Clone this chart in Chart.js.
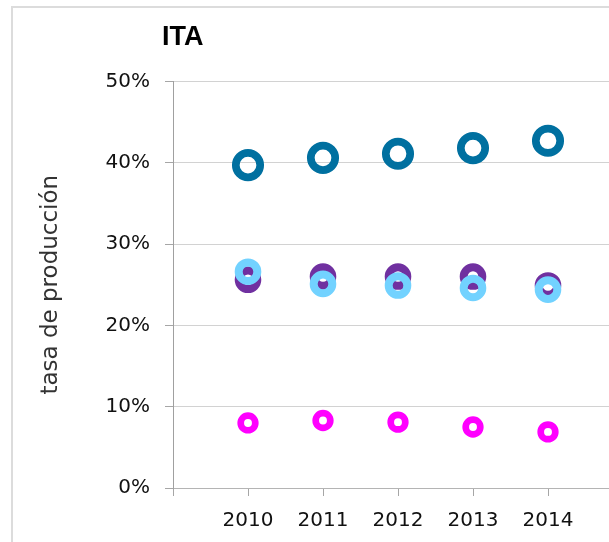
<!DOCTYPE html>
<html>
<head>
<meta charset="utf-8">
<script src="https://cdn.jsdelivr.net/npm/chart.js@4/dist/chart.umd.min.js"></script>
<style>
  html, body { margin: 0; padding: 0; overflow: hidden; background: #fff; width: 609px; height: 542px; }
  #wrap { position: absolute; left: 0; top: 0; width: 636px; height: 542px; }
  #frame { position: absolute; left: 11px; top: 6px; width: 700px; height: 700px; border-left: 2px solid #dcdcdc; border-top: 2px solid #dcdcdc; box-sizing: border-box; }
  canvas { position: absolute; left: 0; top: 0; }
</style>
</head>
<body>
<div id="wrap">
  <div id="frame"></div>
  <canvas id="c" width="636" height="542"></canvas>
</div>
<script>
const chartTitle = 'ITA';
const yAxisTitle = 'tasa de producción';
const years = [2010, 2011, 2012, 2013, 2014];
const seriesNames = ['Serie 1', 'Serie 2', 'Serie 3', 'Serie 4'];
const darkBlueValues = [39.7, 40.6, 41.1, 41.8, 42.7];
const purpleValues = [25.6, 26.0, 26.0, 26.0, 24.9];
const lightBlueValues = [26.6, 25.1, 24.9, 24.6, 24.4];
const magentaValues = [8.0, 8.3, 8.1, 7.5, 6.9];
const yTicks = [0, 10, 20, 30, 40, 50];

const toPoints = vals => vals.map((v, i) => ({ x: years[i], y: v }));

function ring(label, vals, color, r, w) {
  return {
    label: label,
    data: toPoints(vals),
    showLine: false,
    borderColor: color,
    backgroundColor: 'rgba(0,0,0,0)',
    pointBorderColor: color,
    pointBackgroundColor: 'rgba(0,0,0,0)',
    pointRadius: r,
    pointBorderWidth: w,
    pointHoverRadius: r,
    pointHoverBorderWidth: w
  };
}

const titleShift = {
  id: 'titleShift',
  afterLayout(chart) {
    if (chart.titleBlock) {
      chart.titleBlock.left = chart.chartArea.left - 11;
    }
  }
};

new Chart(document.getElementById('c'), {
  type: 'scatter',
  data: {
    datasets: [
      ring(seriesNames[2], lightBlueValues, '#72D2FF', 9.3, 8),
      ring(seriesNames[1], purpleValues, '#7030A0', 9.3, 8),
      ring(seriesNames[0], darkBlueValues, '#0070A0', 12.2, 7.7),
      ring(seriesNames[3], magentaValues, '#FF00FF', 7.3, 6.7)
    ]
  },
  plugins: [titleShift],
  options: {
    responsive: false,
    devicePixelRatio: 1,
    animation: false,
    layout: { autoPadding: false, padding: { left: 0, right: 0, top: 0, bottom: 0 } },
    plugins: {
      legend: { display: false },
      tooltip: { enabled: false },
      title: {
        display: true,
        text: chartTitle,
        align: 'start',
        color: '#000',
        font: { family: 'Liberation Sans', size: 27, weight: 'bold' },
        padding: { top: 21, bottom: 28 }
      }
    },
    scales: {
      x: {
        type: 'linear',
        min: 2009,
        max: 2015,
        afterFit(scale) { scale.height = 54; },
        ticks: {
          stepSize: 1,
          autoSkip: false,
          maxRotation: 0,
          padding: 13,
          color: '#111',
          font: { family: 'DejaVu Sans', size: 20 },
          callback: v => (years.includes(v) ? String(v) : '')
        },
        grid: {
          drawOnChartArea: false,
          drawTicks: true,
          tickLength: 8,
          tickColor: '#a6a6a6',
          color: '#a6a6a6'
        },
        border: { display: true, color: '#b4b4b4', width: 1 }
      },
      y: {
        type: 'linear',
        min: yTicks[0],
        max: yTicks[yTicks.length - 1],
        afterFit(scale) { scale.width = 173; },
        afterBuildTicks(scale) { scale.ticks = yTicks.map(v => ({ value: v })); },
        ticks: {
          padding: 15,
          color: '#111',
          font: { family: 'DejaVu Sans', size: 20 },
          callback: v => v + '%'
        },
        grid: {
          color: '#d2d2d2',
          tickColor: '#a6a6a6',
          tickLength: 8,
          lineWidth: 1
        },
        border: { display: true, color: '#a0a0a0', width: 1 },
        title: {
          display: true,
          text: yAxisTitle,
          color: '#333',
          font: { family: 'DejaVu Sans', size: 23 },
          padding: { top: 37, bottom: 0 }
        }
      }
    }
  }
});
</script>
</body>
</html>
